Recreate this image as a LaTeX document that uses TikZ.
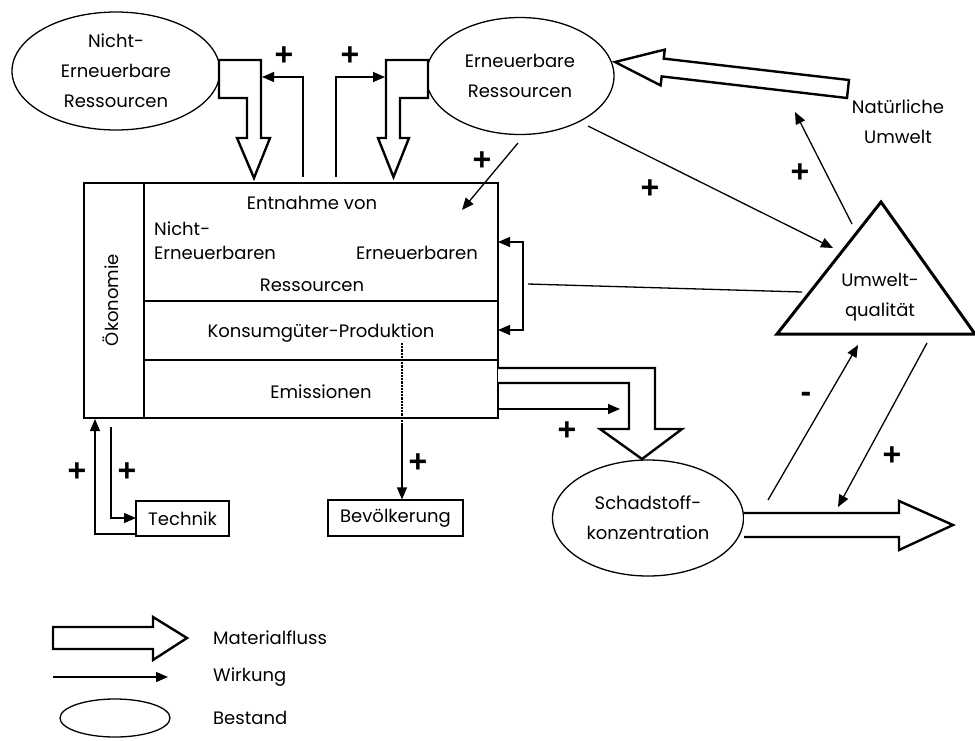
\documentclass[tikz,border=0pt]{standalone}
\usepackage{fontspec}
\setmainfont{Poppins}
\newfontfamily\signfont{Liberation Sans}
\usetikzlibrary{arrows.meta,shapes.geometric}
\begin{document}
\begin{tikzpicture}[x=1pt,y=-1pt,
  every node/.style={font=\fontsize{18}{30}\selectfont, align=center, inner sep=0pt},
  wirk/.style={line width=1.3pt, -{Triangle[length=12pt,width=10pt]}},
  wline/.style={line width=1.3pt},
  flow/.style={line width=2.4pt, line join=miter, fill=white},
  bestand/.style={ellipse, draw, line width=1.3pt},
  box/.style={rectangle, draw, line width=1.6pt},
  sign/.style={font=\signfont\bfseries\fontsize{32}{32}\selectfont},
  legtext/.style={anchor=west},
]
\useasboundingbox (0,0) rectangle (975,740);

% Stocks (ellipses)
\node[bestand, minimum width=208pt, minimum height=118pt] (ne) at (116,71) {Nicht-\\Erneuerbare\\Ressourcen};
\node[bestand, minimum width=188pt, minimum height=117pt] (er) at (520,76) {Erneuerbare\\Ressourcen};
\node[bestand, minimum width=191pt, minimum height=116pt] (sk) at (648,518) {Schadstoff-\\konzentration};

% Economy block
\node[box, minimum width=60pt, minimum height=235pt] (oek) at (114,300.5) {};
\node[rotate=90] (oektext) at (111,300) {Ökonomie};
\node[box, minimum width=354pt, minimum height=118pt] (ent) at (321,242) {};
\node[box, minimum width=354pt, minimum height=59pt] (kon) at (321,330.5) {};
\node[box, minimum width=354pt, minimum height=58pt] (emi) at (321,389) {};
\node (t1) at (312,203) {Entnahme von};
\node[anchor=west] (t2) at (154,229) {Nicht-};
\node[anchor=west] (t3) at (154,253) {Erneuerbaren};
\node (t4) at (417,253) {Erneuerbaren};
\node (t5) at (312,285) {Ressourcen};
\node (t6) at (321,333) {Konsumgüter-Produktion};
\node (t7) at (321,392) {Emissionen};

\node[box, line width=1.2pt, minimum width=93pt, minimum height=35pt] (tech) at (182.5,518.5) {Technik};
\node[box, line width=1.2pt, minimum width=135pt, minimum height=36pt] (bev) at (395.5,518) {Bevölkerung};

% Environmental quality triangle
\draw[line width=3pt, line join=miter] (881,202) coordinate (uqtop) -- (975,334) coordinate (uqr) -- (777,334) coordinate (uql) -- cycle;
\node (uq) at (880,297) {Umwelt-\\qualität};
\node (nu) at (898,122) {Natürliche\\Umwelt};

% Material flows
\draw[flow] (219,60) -- (261,60) -- (261,138) -- (270,138) -- (254,178) -- (237,138) -- (247,138) -- (247,98) -- (219,98) -- cycle;
\draw[flow] (386,60) -- (428,60) -- (428,98) -- (400,98) -- (400,138) -- (409,138) -- (393.5,177) -- (378,138) -- (386,138) -- cycle;
\draw[flow] (615,62) -- (664.8,49.6) -- (663.7,58.6) -- (849,80) -- (847,98) -- (661.7,76.4) -- (660.6,85.4) -- cycle;
\draw[flow] (498,368) -- (655,368) -- (655,429) -- (682,429) -- (642,459) -- (600,429) -- (629,429) -- (629,383) -- (498,383);
\draw[flow] (744,513) -- (899,513) -- (899,501) -- (953,525) -- (899,550) -- (899,537) -- (744,537);

% Coordinates for effect connectors
\coordinate (a1s) at (303,177); \coordinate (a1e) at (262,77);
\coordinate (a2s) at (336,177); \coordinate (a2e) at (385,77);
\coordinate (a3s) at (518,143); \coordinate (a3e) at (462,210);
\coordinate (a4s) at (588,126); \coordinate (a4e) at (833,248);
\coordinate (a5s) at (852,224); \coordinate (a5e) at (795,112);
\coordinate (b1) at (498,242); \coordinate (b2) at (523,242); \coordinate (b3) at (523,330); \coordinate (b4) at (498,330);
\coordinate (bl) at (528,284); \coordinate (br) at (802,292);
\coordinate (e1) at (498,409); \coordinate (e2) at (620,409);
\coordinate (m1) at (768,500); \coordinate (m2) at (858,345);
\coordinate (p1) at (927,343); \coordinate (p2) at (838,507);
\coordinate (d1) at (402,343); \coordinate (d2) at (402,425);
\coordinate (tk1) at (136,534); \coordinate (tk2) at (95,419);
\coordinate (tk3) at (111,427); \coordinate (tk4) at (136,518);

% Effect connectors
\draw[wirk] (a1s) |- (a1e);
\draw[wirk] (a2s) |- (a2e);
\draw[wirk] (a3s) -- (a3e);
\draw[wirk] (a4s) -- (a4e);
\draw[wirk] (a5s) -- (a5e);
\draw[line width=1.3pt, {Triangle[length=12pt,width=10pt]}-{Triangle[length=12pt,width=10pt]}] (b1) -- (b2) -- (b3) -- (b4);
\draw[wline] (bl) -- (br);
\draw[wirk] (e1) -- (e2);
\draw[wirk] (m1) -- (m2);
\draw[wirk] (p1) -- (p2);
\draw[line width=2.2pt, densely dotted] (d1) -- (d2);
\draw[wirk] (d2) -- (bev.north -| d2);
\draw[wirk] (tk1) -| (tk2);
\draw[wirk] (tk3) |- (tk4);

% Signs
\node[sign] (s1) at (284,56) {+};
\node[sign] (s2) at (350,56) {+};
\node[sign] (s3) at (482,161) {+};
\node[sign] (s4) at (650,189) {+};
\node[sign] (s5) at (800,173) {+};
\node[sign] (s6) at (567,431) {+};
\node[sign] (s7) at (892,456) {+};
\node[sign] (s8) at (806,397) {-};
\node[sign] (s9) at (418,463) {+};
\node[sign] (s10) at (77,472) {+};
\node[sign] (s11) at (127,472) {+};

% Legend
\draw[flow] (53,627) -- (153,627) -- (153,617) -- (187,638) -- (153,660) -- (153,649) -- (53,649) -- cycle;
\coordinate (lw1) at (53,677); \coordinate (lw2) at (168,677);
\draw[wirk] (lw1) -- (lw2);
\node[bestand, minimum width=110pt, minimum height=38pt] (lb) at (115,718) {};
\node[legtext] (l1) at (213,638) {Materialfluss};
\node[legtext] (l2) at (213,677) {Wirkung};
\node[legtext] (l3) at (213,718) {Bestand};
\end{tikzpicture}
\end{document}
